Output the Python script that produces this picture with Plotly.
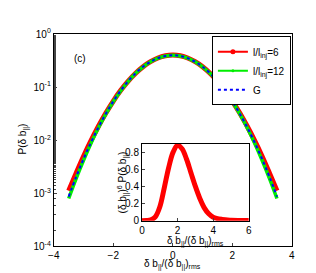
import plotly.graph_objects as go

# main panel data
x_main = [-3.5, -3.25, -3.0, -2.75, -2.5, -2.25, -2.0, -1.75, -1.5, -1.25, -1.0, -0.75, -0.5, -0.25, 0.0,
          0.25, 0.5, 0.75, 1.0, 1.25, 1.5, 1.75, 2.0, 2.25, 2.5, 2.75, 3.0, 3.25, 3.5]
p_l6 = [0.00112, 0.0024, 0.0050, 0.0098, 0.0183, 0.0325, 0.0548, 0.0870, 0.130, 0.183, 0.243, 0.302, 0.354, 0.390, 0.403,
        0.390, 0.354, 0.302, 0.243, 0.183, 0.130, 0.0870, 0.0548, 0.0325, 0.0183, 0.0098, 0.0050, 0.0024, 0.00112]
p_l12 = [0.00080, 0.0019, 0.0042, 0.0088, 0.0172, 0.0313, 0.0535, 0.0858, 0.129, 0.182, 0.242, 0.301, 0.352, 0.387, 0.400,
         0.387, 0.352, 0.301, 0.242, 0.182, 0.129, 0.0858, 0.0535, 0.0313, 0.0172, 0.0088, 0.0042, 0.0019, 0.00080]
p_g = [0.00087, 0.00203, 0.00443, 0.00909, 0.0175, 0.0317, 0.0540, 0.0863, 0.1295, 0.1826, 0.2420, 0.3011, 0.3521, 0.3867, 0.3989,
       0.3867, 0.3521, 0.3011, 0.2420, 0.1826, 0.1295, 0.0863, 0.0540, 0.0317, 0.0175, 0.00909, 0.00443, 0.00203, 0.00087]

# inset data
x_in = [0.0, 0.25, 0.5, 0.75, 1.0, 1.25, 1.5, 1.75, 2.0, 2.25, 2.5, 2.75, 3.0, 3.25, 3.5, 3.75, 4.0, 4.5, 5.0, 5.5, 6.0]
y_in = [0.0, 0.002, 0.01, 0.045, 0.16, 0.38, 0.62, 0.80, 0.88, 0.84, 0.72, 0.56, 0.40, 0.26, 0.15, 0.08, 0.04, 0.015, 0.006, 0.003, 0.002]

main_yticks = [1e-4, 1e-3, 1e-2, 1e-1, 1]
main_yticktext = ["10<sup>-4</sup>", "10<sup>-3</sup>", "10<sup>-2</sup>", "10<sup>-1</sup>", "10<sup>0</sup>"]

series_names = ["l/l<sub>inj</sub>=6", "l/l<sub>inj</sub>=12", "G"]

FONT = "Liberation Sans, Arial, sans-serif"
RED, GREEN, BLUE = "#ff0000", "#00ee00", "#0000ff"

fig = go.Figure()
fig.add_trace(go.Scatter(x=x_main, y=p_l6, mode="lines", showlegend=False,
                         line=dict(color=RED, width=5, shape="spline")))
fig.add_trace(go.Scatter(x=x_main, y=p_l12, mode="lines", showlegend=False,
                         line=dict(color=GREEN, width=3.5, shape="spline")))
fig.add_trace(go.Scatter(x=x_main, y=p_g, mode="lines", showlegend=False,
                         line=dict(color=BLUE, width=2, dash="dot", shape="spline")))
fig.add_trace(go.Scatter(x=x_in, y=y_in, mode="lines", showlegend=False, xaxis="x2", yaxis="y2",
                         line=dict(color=RED, width=5, shape="spline")))

# legend entries (thin symbols as in the reference legend)
fig.add_trace(go.Scatter(x=[None], y=[None], mode="lines+markers", name=series_names[0],
                         line=dict(color=RED, width=2), marker=dict(color=RED, size=5)))
fig.add_trace(go.Scatter(x=[None], y=[None], mode="lines+markers", name=series_names[1],
                         line=dict(color=GREEN, width=2), marker=dict(color=GREEN, size=3)))
fig.add_trace(go.Scatter(x=[None], y=[None], mode="lines", name=series_names[2],
                         line=dict(color=BLUE, width=2, dash="dot")))

fig.update_layout(
    width=316, height=273,
    margin=dict(l=0, r=0, t=0, b=0),
    paper_bgcolor="white", plot_bgcolor="white",
    font=dict(family=FONT, size=10, color="black"),
    showlegend=True,
    legend=dict(x=0.902, y=0.918, xanchor="right", yanchor="top",
                bordercolor="black", borderwidth=1, bgcolor="white",
                font=dict(size=10), tracegroupgap=0, itemwidth=30),
    xaxis=dict(domain=[0.1297, 0.905], range=[-4, 4], tickvals=[-4, -2, 0, 2, 4],
               ticks="inside", ticklen=3, showline=True, linecolor="black", mirror=True,
               showgrid=False, zeroline=False, tickfont=dict(size=10)),
    yaxis=dict(domain=[0.1099, 0.9267], type="log", range=[-4, 0],
               tickvals=main_yticks, ticktext=main_yticktext,
               ticks="inside", ticklen=3, showline=True, linecolor="black", mirror=True,
               showgrid=False, zeroline=False, tickfont=dict(size=10),
               minor=dict(ticks="inside", ticklen=2, showgrid=False)),
    xaxis2=dict(domain=[0.4168, 0.7649], anchor="y2", range=[0, 6], tickvals=[0, 2, 4, 6],
                ticks="inside", ticklen=3, showline=True, linecolor="black", mirror=True,
                showgrid=False, zeroline=False, tickfont=dict(size=10)),
    yaxis2=dict(domain=[0.2088, 0.5055], anchor="x2", range=[0, 0.9],
                tickvals=[0, 0.2, 0.4, 0.6, 0.8], ticktext=["0", "0.2", "0.4", "0.6", "0.8"],
                ticks="inside", ticklen=3, showline=True, linecolor="black", mirror=True,
                showgrid=False, zeroline=False, tickfont=dict(size=10)),
)

annos = [
    dict(text="(c)", x=68 / 316, y=1 - 46 / 273, font=dict(size=10)),
    dict(text="P(δ b<sub>||</sub>)", x=10 / 316, y=1 - 130 / 273, textangle=-90, font=dict(size=10)),
    dict(text="δ b<sub>||</sub>/(δ b<sub>||</sub>)<sub>rms</sub>", x=163 / 316, y=1 - 262 / 273, font=dict(size=10)),
    dict(text="δ b<sub>||</sub>/(δ b<sub>||</sub>)<sub>rms</sub>", x=187 / 316, y=1 - 238 / 273, font=dict(size=10)),
    dict(text="(δ b<sub>||</sub>)<sup>6</sup> P(δ b<sub>||</sub>)", x=112 / 316, y=1 - 176 / 273, textangle=-90, font=dict(size=10)),
]
for a in annos:
    a.update(xref="paper", yref="paper", xanchor="center", yanchor="middle", showarrow=False)
    fig.add_annotation(**a)

fig.write_html("out.html")
